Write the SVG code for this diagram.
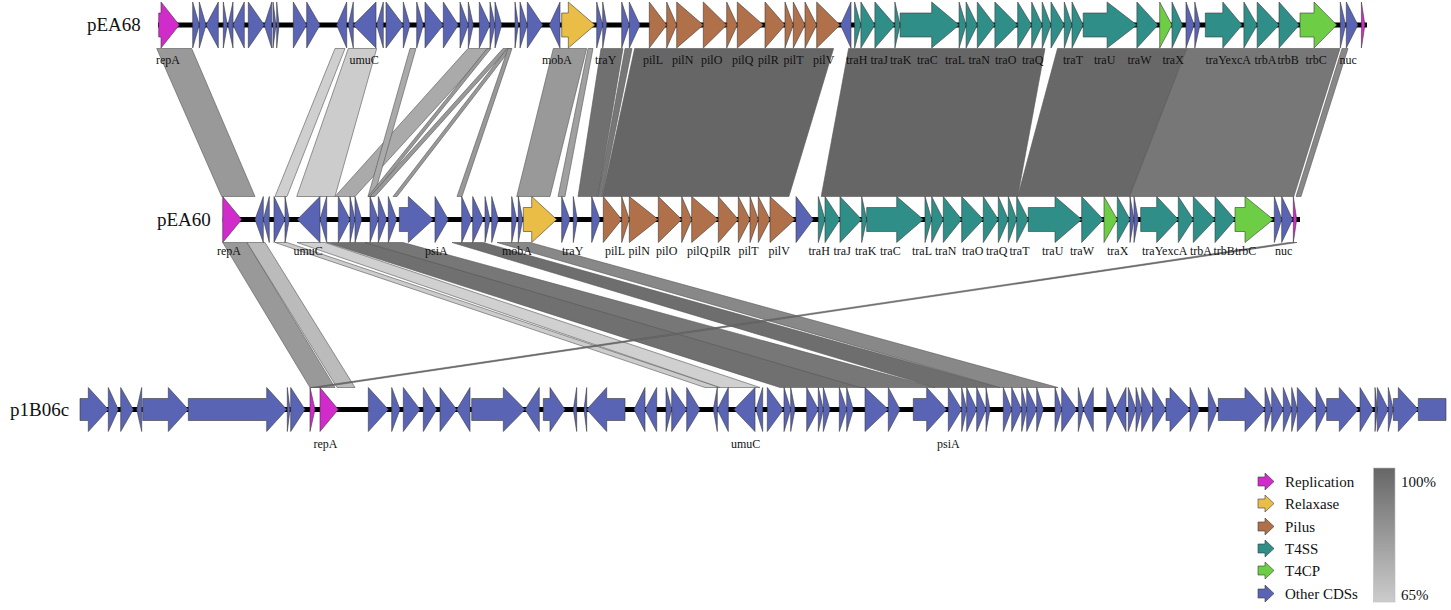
<svg xmlns="http://www.w3.org/2000/svg" width="1451" height="610" viewBox="0 0 1451 610">
<defs>
<style>
.bb{stroke:#000;stroke-width:5;fill:none}
.g{stroke:#3a3a3a;stroke-width:0.6;stroke-linejoin:miter}
.rep{fill:#D12BCB}.rel{fill:#E9BD46}.pil{fill:#B0714A}.t4s{fill:#2F8E88}.t4c{fill:#6DCE46}.oth{fill:#5A64B4}
.lab{font-family:"Liberation Serif","Times New Roman",serif;font-size:12px;fill:#111}
.name{font-family:"Liberation Serif","Times New Roman",serif;font-size:19px;fill:#111}
.leg{font-family:"Liberation Serif","Times New Roman",serif;font-size:15px;fill:#111}
.band{stroke:#555;stroke-width:0.6;stroke-linejoin:round}
</style>
<linearGradient id="idg" x1="0" y1="0" x2="0" y2="1">
<stop offset="0" stop-color="#666666"/><stop offset="1" stop-color="#cccccc"/>
</linearGradient>
</defs>
<rect width="1451" height="610" fill="#fff"/>

<g id="connectors">
<polygon class="band" fill="#999999" points="156.7,48.5 191.7,48.5 255,196.5 221.7,196.5"/>
<polygon class="band" fill="#cfcfcf" points="335,48.5 345,48.5 287,196.5 275,196.5"/>
<polygon class="band" fill="#cccccc" points="348.3,48.5 376.7,48.5 335,196.5 296.7,196.5"/>
<polygon class="band" fill="#aaaaaa" points="468,48.5 490,48.5 355,196.5 335,196.5"/>
<polygon class="band" fill="#aaaaaa" points="410,48.5 416,48.5 374,196.5 368,196.5"/>
<polygon class="band" fill="#999999" points="487,48.5 491,48.5 372,196.5 368,196.5"/>
<polygon class="band" fill="#999999" points="503,48.5 508,48.5 375,196.5 370,196.5"/>
<polygon class="band" fill="#999999" points="507,48.5 511,48.5 397,196.5 393,196.5"/>
<polygon class="band" fill="#999999" points="508,48.5 512,48.5 462,196.5 457,196.5"/>
<polygon class="band" fill="#999999" points="553.3,48.5 586.7,48.5 550,196.5 516.7,196.5"/>
<polygon class="band" fill="#a0a0a0" points="588,48.5 593,48.5 565,196.5 558,196.5"/>
<polygon class="band" fill="#707070" points="601,48.5 623,48.5 598,196.5 578,196.5"/>
<polygon class="band" fill="#777777" points="625,48.5 632,48.5 602,196.5 598,196.5"/>
<polygon class="band" fill="#666666" points="634.6,48.5 833.6,48.5 788.9,196.5 602.3,196.5"/>
<polygon class="band" fill="#666666" points="848.6,48.5 1045,48.5 1017.7,196.5 821.2,196.5"/>
<polygon class="band" fill="#686868" points="1057.5,48.5 1186.9,48.5 1129.6,196.5 1017.7,196.5"/>
<polygon class="band" fill="#777777" points="1186.9,48.5 1340,48.5 1293.8,196.5 1129.6,196.5"/>
<polygon class="band" fill="#888888" points="1342,48.5 1348,48.5 1301,196.5 1296,196.5"/>

<polygon class="band" fill="#999999" points="222.7,242.5 247,242.5 335,387.5 310,387.5"/>
<polygon class="band" fill="#bbbbbb" points="247,242.5 265,242.5 355,387.5 337,387.5"/>
<polygon class="band" fill="#cccccc" points="275,242.5 287,242.5 720,387.5 705,387.5"/>
<polygon class="band" fill="#d0d0d0" points="297,242.5 325,242.5 760,387.5 720,387.5"/>
<polygon class="band" fill="#707070" points="327,242.5 365,242.5 865,387.5 780,387.5"/>
<polygon class="band" fill="#777777" points="365,242.5 403,242.5 935,387.5 860,387.5"/>
<polygon class="band" fill="#6e6e6e" points="452,242.5 483,242.5 1000,387.5 935,387.5"/>
<polygon class="band" fill="#888888" points="497,242.5 530,242.5 1058,387.5 1000,387.5"/>
<polygon class="band" fill="#777777" points="1289,242.5 1297,242.5 319,387.5 311,387.5"/>
</g>

<g id="track-pEA68">
<line class="bb" x1="158" y1="25" x2="1367" y2="25"/>
<g transform="translate(0,25)">
<path class="g rep" d="M158.7,-12H161V-23L179.3,0L161,23V12H158.7Z M1361.4,-23L1364.9,0L1361.4,23Z"/>
<path class="g oth" d="M192.7,-23L199.3,0L192.7,23Z M199.3,-23L206,0L199.3,23Z M218.3,-23L206,0L218.3,23Z M223.3,-23L227.3,0L223.3,23Z M233,-23L228,0L233,23Z M244.3,-23L233,0L244.3,23Z M248.3,-23L264.3,0L248.3,23Z M271.7,-23L264.3,0L271.7,23Z M273,-23L276,0L273,23Z M276.7,-23L279,0L276.7,23Z M293.3,-23L306.7,0L293.3,23Z M306.7,-23L320,0L306.7,23Z M346.7,-23L336.7,0L346.7,23Z M353.3,-23L348.3,0L353.3,23Z M376,-23L353.3,0L376,23Z M383.3,-23L376.7,0L383.3,23Z M386,-23L403.3,0L386,23Z M403.3,-23L410,0L403.3,23Z M416.7,-23L423.3,0L416.7,23Z M425,-23L443.3,0L425,23Z M443.3,-23L458.3,0L443.3,23Z M460,-23L468.3,0L460,23Z M468.3,-23L473.3,0L468.3,23Z M479.3,-23L490,0L479.3,23Z M490,-23L495,0L490,23Z M495,-23L501.7,0L495,23Z M515,-23L518.3,0L515,23Z M520,-23L527.3,0L520,23Z M527.3,-23L542.7,0L527.3,23Z M560,-23L549.3,0L560,23Z M596.7,-23L602.7,0L596.7,23Z M602.7,-23L606.7,0L602.7,23Z M621.7,-23L629.3,0L621.7,23Z M629.3,-23L640,0L629.3,23Z M851,-23L840.5,0L851,23Z M1186,-23L1194.1,0L1186,23Z M1194.8,-23L1200,0L1194.8,23Z M1340.3,-23L1345.6,0L1340.3,23Z M1346.3,-23L1357.9,0L1346.3,23Z"/>
<path class="g rel" d="M561.7,-12H568.3V-23L595,0L568.3,23V12H561.7Z"/>
<path class="g pil" d="M649.3,-23L666.7,0L649.3,23Z M666.7,-23L676.7,0L666.7,23Z M676.7,-23L703.3,0L676.7,23Z M703.3,-23L726.7,0L703.3,23Z M726.7,-23L737.3,0L726.7,23Z M737.3,-23L763.3,0L737.3,23Z M765,-23L785,0L765,23Z M785,-23L793.3,0L785,23Z M793.3,-23L805,0L793.3,23Z M805,-23L816.7,0L805,23Z M816.7,-23L840,0L816.7,23Z"/>
<path class="g t4s" d="M854.6,-23L860.9,0L854.6,23Z M860.9,-23L874.9,0L860.9,23Z M874.9,-23L894.9,0L874.9,23Z M894.9,-23L900.1,0L894.9,23Z M900.1,-12H931.7V-23L959.1,0L931.7,23V12H900.1Z M959.1,-23L966.1,0L959.1,23Z M966.1,-23L977.3,0L966.1,23Z M977.3,-23L994.9,0L977.3,23Z M994.9,-23L1017.7,0L994.9,23Z M1017.7,-23L1031.7,0L1017.7,23Z M1031.7,-23L1042.2,0L1031.7,23Z M1042.2,-23L1051,0L1042.2,23Z M1051,-23L1064.3,0L1051,23Z M1064.3,-23L1072,0L1064.3,23Z M1072,-23L1083.2,0L1072,23Z M1083.2,-12H1107.1V-23L1136.9,0L1107.1,23V12H1083.2Z M1136.9,-23L1158,0L1136.9,23Z M1172,-23L1182.5,0L1172,23Z M1205.3,-12H1222.8V-23L1242.1,0L1222.8,23V12H1205.3Z M1243.9,-23L1257.2,0L1243.9,23Z M1257.2,-23L1279,0L1257.2,23Z M1279,-23L1299.3,0L1279,23Z"/>
<path class="g t4c" d="M1159.7,-23L1172,0L1159.7,23Z M1300,-12H1314V-23L1336.8,0L1314,23V12H1300Z"/>
</g>
<text class="name" x="87" y="31">pEA68</text>
<g class="lab">
<text x="156" y="64">repA</text><text x="349.5" y="64">umuC</text><text x="542" y="64">mobA</text><text x="595" y="64">traY</text>
<text x="643" y="64">pilL</text><text x="672" y="64">pilN</text><text x="701" y="64">pilO</text><text x="732" y="64">pilQ</text><text x="758" y="64">pilR</text><text x="783.5" y="64">pilT</text><text x="813" y="64">pilV</text>
<text x="846" y="64">traH</text><text x="870.5" y="64">traJ</text><text x="890" y="64">traK</text><text x="917" y="64">traC</text><text x="945" y="64">traL</text><text x="968.5" y="64">traN</text><text x="995" y="64">traO</text><text x="1022" y="64">traQ</text>
<text x="1063" y="64">traT</text><text x="1094" y="64">traU</text><text x="1127.5" y="64">traW</text><text x="1162.5" y="64">traX</text><text x="1205.5" y="64">traYexcA</text><text x="1254.5" y="64">trbA</text><text x="1277.5" y="64">trbB</text><text x="1305.5" y="64">trbC</text><text x="1339.5" y="64">nuc</text>
</g>
</g>

<g id="track-pEA60">
<line class="bb" x1="222.7" y1="219.5" x2="1300" y2="219.5"/>
<g transform="translate(0,219.5)">
<path class="g rep" d="M222.7,-23L241.7,0L222.7,23Z M1293.3,-23L1296.7,0L1293.3,23Z"/>
<path class="g oth" d="M263.3,-23L255,0L263.3,23Z M269.3,-23L263.3,0L269.3,23Z M274,-23L285,0L274,23Z M285,-23L289.3,0L285,23Z M320,-23L297.3,0L320,23Z M326.7,-23L320,0L326.7,23Z M338.3,-23L350,0L338.3,23Z M350,-23L355,0L350,23Z M355,-23L361.7,0L355,23Z M370,-23L378.3,0L370,23Z M378.3,-23L386.7,0L378.3,23Z M388.3,-23L396.7,0L388.3,23Z M399.3,-12H408.3V-23L433.3,0L408.3,23V12H399.3Z M435,-23L448.3,0L435,23Z M461.7,-23L471.7,0L461.7,23Z M472.7,-23L483.3,0L472.7,23Z M485,-23L490,0L485,23Z M491.7,-23L498.3,0L491.7,23Z M511.7,-23L516.7,0L511.7,23Z M518.3,-23L522.7,0L518.3,23Z M561.7,-23L570,0L561.7,23Z M573.3,-23L577.3,0L573.3,23Z M591.7,-23L600,0L591.7,23Z M796,-23L813.3,0L796,23Z M1130,-23L1134,0L1130,23Z M1134,-23L1138.3,0L1134,23Z M1274.3,-23L1281.7,0L1274.3,23Z M1281.7,-23L1292.7,0L1281.7,23Z"/>
<path class="g rel" d="M523.3,-12H531.7V-23L556.7,0L531.7,23V12H523.3Z"/>
<path class="g pil" d="M603.3,-23L621.7,0L603.3,23Z M621.7,-23L629.3,0L621.7,23Z M629.3,-23L658.3,0L629.3,23Z M658.3,-23L681.7,0L658.3,23Z M681.7,-23L691.7,0L681.7,23Z M691.7,-23L718.3,0L691.7,23Z M718.3,-23L738.3,0L718.3,23Z M738.3,-23L750,0L738.3,23Z M750,-23L758.3,0L750,23Z M758.3,-23L770,0L758.3,23Z M770,-23L795,0L770,23Z"/>
<path class="g t4s" d="M818.3,-23L825,0L818.3,23Z M825,-23L840,0L825,23Z M840,-23L861.7,0L840,23Z M861.7,-23L866.7,0L861.7,23Z M866.7,-12H896.7V-23L923.3,0L896.7,23V12H866.7Z M925,-23L931.7,0L925,23Z M931.7,-23L943.3,0L931.7,23Z M943.3,-23L961.7,0L943.3,23Z M961.7,-23L983.3,0L961.7,23Z M983.3,-23L998.3,0L983.3,23Z M998.3,-23L1008.3,0L998.3,23Z M1008.3,-23L1016.7,0L1008.3,23Z M1016.7,-23L1028.3,0L1016.7,23Z M1028.3,-12H1055V-23L1081.7,0L1055,23V12H1028.3Z M1081.7,-23L1103.3,0L1081.7,23Z M1117.3,-23L1130,0L1117.3,23Z M1140.7,-12H1156.7V-23L1178.3,0L1156.7,23V12H1140.7Z M1178.3,-23L1193.3,0L1178.3,23Z M1193.3,-23L1215,0L1193.3,23Z M1215,-23L1235,0L1215,23Z"/>
<path class="g t4c" d="M1104,-23L1117.3,0L1104,23Z M1235,-12H1245V-23L1273.3,0L1245,23V12H1235Z"/>
</g>
<text class="name" x="157" y="226">pEA60</text>
<g class="lab">
<text x="217" y="255">repA</text><text x="293.5" y="255">umuC</text><text x="425" y="255">psiA</text><text x="502" y="255">mobA</text><text x="562" y="255">traY</text>
<text x="605" y="255">pilL</text><text x="628.5" y="255">pilN</text><text x="656" y="255">pilO</text><text x="687" y="255">pilQ</text><text x="710" y="255">pilR</text><text x="738.5" y="255">pilT</text><text x="768.5" y="255">pilV</text>
<text x="808.5" y="255">traH</text><text x="833.5" y="255">traJ</text><text x="855" y="255">traK</text><text x="880" y="255">traC</text><text x="912" y="255">traL</text><text x="935" y="255">traN</text><text x="962" y="255">traO</text><text x="986" y="255">traQ</text>
<text x="1009.5" y="255">traT</text><text x="1042" y="255">traU</text><text x="1070" y="255">traW</text><text x="1107" y="255">traX</text><text x="1142" y="255">traYexcA</text><text x="1190" y="255">trbA</text><text x="1213.5" y="255">trbB</text><text x="1235" y="255">trbC</text><text x="1275" y="255">nuc</text>
</g>
</g>

<g id="track-p1B06c">
<line class="bb" x1="80" y1="409.5" x2="1418" y2="409.5"/>
<g transform="translate(0,409.5)">
<path class="g oth" d="M80,-11H88.3V-22L108.3,0L88.3,22V11H80Z M108.3,-22L118.3,0L108.3,22Z M120.7,-22L133.3,0L120.7,22Z M141.7,-22L136.7,0L141.7,22Z M142.7,-11H168.3V-22L188.3,0L168.3,22V11H142.7Z M188.3,-11H266.7V-22L286.7,0L266.7,22V11H188.3Z M287.3,-22L290,0L287.3,22Z M290.7,-22L305,0L290.7,22Z M368.3,-22L388.3,0L368.3,22Z M391.7,-22L400,0L391.7,22Z M403.3,-22L420,0L403.3,22Z M423.3,-22L436.7,0L423.3,22Z M440,-22L456.7,0L440,22Z M470,-22L456.7,0L470,22Z M471.7,-11H503.3V-22L525,0L503.3,22V11H471.7Z M539.3,-22L525,0L539.3,22Z M543.3,-11H550V-22L565,0L550,22V11H543.3Z M576.7,-22L573.3,0L576.7,22Z M586.7,-22L584,0L586.7,22Z M625,-11H606.7V-22L586.7,0L606.7,22V11H625Z M645,-22L634,0L645,22Z M656.7,-22L645,0L656.7,22Z M666,-22L671.7,0L666,22Z M671.7,-22L686.7,0L671.7,22Z M686.7,-22L700,0L686.7,22Z M717.3,-22L713.3,0L717.3,22Z M728.3,-22L717.3,0L728.3,22Z M755,-22L734,0L755,22Z M762.7,-22L756,0L762.7,22Z M767.3,-22L783.3,0L767.3,22Z M784,-22L790.7,0L784,22Z M790.7,-22L795,0L790.7,22Z M806.7,-22L818.3,0L806.7,22Z M818.3,-22L823.3,0L818.3,22Z M823.3,-22L830,0L823.3,22Z M839.3,-22L846.7,0L839.3,22Z M846.7,-22L853.3,0L846.7,22Z M865,-22L888.3,0L865,22Z M888.3,-22L900,0L888.3,22Z M913.3,-11H926.7V-22L946.7,0L926.7,22V11H913.3Z M948.3,-22L961.7,0L948.3,22Z M961.7,-22L966.7,0L961.7,22Z M966.7,-22L976.7,0L966.7,22Z M976.7,-22L986,0L976.7,22Z M986,-22L990,0L986,22Z M1003.3,-22L1011.7,0L1003.3,22Z M1011.7,-22L1021.7,0L1011.7,22Z M1021.7,-22L1026.7,0L1021.7,22Z M1026.7,-22L1036.7,0L1026.7,22Z M1036.7,-22L1043.3,0L1036.7,22Z M1055,-22L1061.7,0L1055,22Z M1061.7,-22L1076.7,0L1061.7,22Z M1078.3,-22L1083.3,0L1078.3,22Z M1093.3,-22L1083.3,0L1093.3,22Z M1106.7,-22L1115,0L1106.7,22Z M1126,-22L1115,0L1126,22Z M1128.3,-22L1136,0L1128.3,22Z M1136,-22L1141.7,0L1136,22Z M1141.7,-22L1152.7,0L1141.7,22Z M1152.7,-22L1166,0L1152.7,22Z M1166,-11H1170V-22L1190,0L1170,22V11H1166Z M1190,-22L1199.3,0L1190,22Z M1208.3,-22L1217.3,0L1208.3,22Z M1218.3,-11H1245V-22L1265,0L1245,22V11H1218.3Z M1265,-22L1271.7,0L1265,22Z M1271.7,-22L1283.3,0L1271.7,22Z M1283.3,-22L1291.7,0L1283.3,22Z M1291.7,-22L1297.3,0L1291.7,22Z M1297.3,-22L1316,0L1297.3,22Z M1316,-22L1326.7,0L1316,22Z M1326.7,-11H1339.3V-22L1358.3,0L1339.3,22V11H1326.7Z M1360,-22L1373.3,0L1360,22Z M1375,-22L1377.3,0L1375,22Z M1377.3,-22L1388.3,0L1377.3,22Z M1388.3,-22L1393.3,0L1388.3,22Z M1393.3,-11H1398.3V-22L1418.3,0L1398.3,22V11H1393.3Z M1418.3,-11H1446V11H1418.3Z"/>
<path class="g rep" d="M310,-22L315,0L310,22Z M320,-22L338.3,0L320,22Z"/>
</g>
<text class="name" x="10" y="416">p1B06c</text>
<g class="lab">
<text x="313.5" y="448">repA</text><text x="731" y="448">umuC</text><text x="937" y="448">psiA</text>
</g>
</g>

<g id="legend">
<path class="g rep" d="M1258,477H1265V473L1274,481.5L1265,490V486H1258Z"/>
<path class="g rel" d="M1258,499H1265V495L1274,503.5L1265,512V508H1258Z"/>
<path class="g pil" d="M1258,522H1265V518L1274,526.5L1265,535V531H1258Z"/>
<path class="g t4s" d="M1258,544H1265V540L1274,548.5L1265,557V553H1258Z"/>
<path class="g t4c" d="M1258,566H1265V562L1274,570.5L1265,579V575H1258Z"/>
<path class="g oth" d="M1258,589H1265V585L1274,593.5L1265,602V598H1258Z"/>
<text class="leg" x="1285" y="486.5">Replication</text>
<text class="leg" x="1285" y="508.5">Relaxase</text>
<text class="leg" x="1285" y="531.5">Pilus</text>
<text class="leg" x="1285" y="553.5">T4SS</text>
<text class="leg" x="1285" y="575.5">T4CP</text>
<text class="leg" x="1285" y="598.5">Other CDSs</text>
<rect x="1373.5" y="468" width="21.5" height="134" fill="url(#idg)" stroke="#bbbbbb" stroke-width="0.6"/>
<text class="leg" x="1401" y="487">100%</text>
<text class="leg" x="1401" y="600">65%</text>
</g>
</svg>
